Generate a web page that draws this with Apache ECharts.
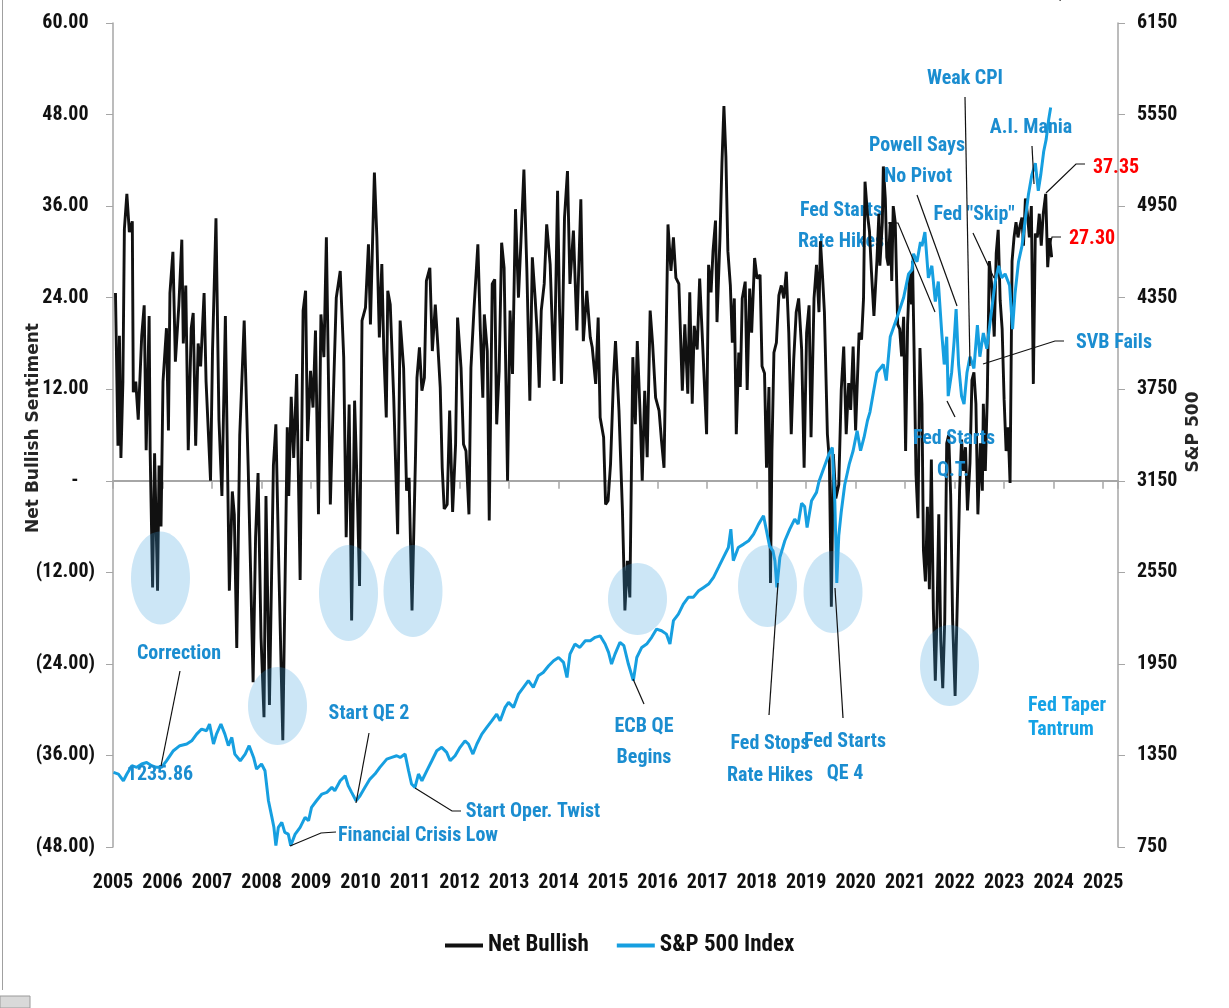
<!DOCTYPE html>
<html><head><meta charset="utf-8">
<script src="https://cdn.jsdelivr.net/npm/echarts@6/dist/echarts.min.js"></script>
<style>html,body{margin:0;padding:0;background:#fff}#c{width:1229px;height:1008px}</style>
</head><body><div id="c"></div>
<script>
// ---- Net bullish sentiment (decimal year, value) ----
const netDates = [2005.05,2005.10,2005.13,2005.16,2005.20,2005.23,2005.28,2005.33,2005.39,2005.41,2005.46,2005.51,2005.58,2005.63,2005.67,2005.73,2005.75,2005.80,2005.84,2005.90,2005.93,2005.97,2006.01,2006.08,2006.12,2006.15,2006.21,2006.26,2006.33,2006.39,2006.42,2006.47,2006.52,2006.58,2006.62,2006.67,2006.72,2006.77,2006.84,2006.88,2006.97,2007.01,2007.08,2007.14,2007.20,2007.27,2007.35,2007.41,2007.45,2007.50,2007.56,2007.65,2007.73,2007.78,2007.83,2007.88,2007.93,2007.99,2008.05,2008.09,2008.16,2008.24,2008.29,2008.35,2008.43,2008.52,2008.55,2008.60,2008.65,2008.71,2008.78,2008.84,
2008.89,2008.93,2008.99,2009.04,2009.09,2009.15,2009.20,2009.26,2009.31,2009.39,2009.46,2009.51,2009.59,2009.66,2009.71,2009.77,2009.82,2009.88,2009.93,2009.98,2010.03,2010.10,2010.16,2010.20,2010.24,2010.28,2010.33,2010.38,2010.43,2010.47,2010.52,2010.55,2010.60,2010.67,2010.75,2010.80,2010.87,2010.93,2010.98,2011.04,2011.11,2011.14,2011.19,2011.24,2011.29,2011.33,2011.40,2011.45,2011.51,2011.56,2011.61,2011.65,2011.69,2011.75,2011.80,2011.86,2011.92,2011.96,2012.03,2012.08,2012.13,2012.19,2012.23,2012.29,2012.37,2012.42,2012.47,2012.50,2012.56,2012.60,2012.66,2012.71,
2012.75,2012.80,2012.85,2012.90,2012.97,2013.02,2013.07,2013.13,2013.19,2013.24,2013.30,2013.36,2013.42,2013.47,2013.53,2013.57,2013.61,2013.65,2013.71,2013.76,2013.83,2013.91,2013.98,2014.02,2014.06,2014.12,2014.18,2014.23,2014.30,2014.37,2014.45,2014.50,2014.57,2014.64,2014.68,2014.75,2014.80,2014.84,2014.91,2014.95,2015.00,2015.05,2015.11,2015.15,2015.22,2015.29,2015.34,2015.39,2015.44,2015.50,2015.55,2015.59,2015.65,2015.69,2015.74,2015.79,2015.85,2015.90,2015.96,2016.03,2016.08,2016.13,2016.21,2016.27,2016.32,2016.37,2016.43,2016.50,2016.55,
2016.61,2016.65,2016.70,2016.74,2016.80,2016.85,2016.90,2016.99,2017.03,2017.08,2017.12,2017.17,2017.20,2017.26,2017.30,2017.34,2017.38,2017.42,2017.47,2017.51,2017.55,2017.59,2017.64,2017.67,2017.71,2017.77,2017.81,2017.86,2017.90,2017.96,2018.01,2018.07,2018.11,2018.16,2018.20,2018.25,2018.28,2018.31,2018.35,2018.40,2018.45,2018.50,2018.55,2018.60,2018.65,2018.70,2018.75,2018.80,2018.85,2018.91,2018.96,2019.01,2019.06,2019.10,2019.16,2019.21,2019.26,2019.29,2019.33,2019.37,2019.43,2019.47,2019.51,2019.55,2019.60,2019.66,2019.71,2019.76,2019.81,2019.86,2019.90,2019.95,2020.00,2020.07,2020.12,2020.16,2020.19,2020.24,2020.28,2020.32,2020.37,
2020.43,2020.47,2020.49,2020.54,2020.56,2020.60,2020.63,2020.66,2020.70,2020.73,2020.76,2020.80,2020.85,2020.89,2020.93,2020.97,2021.01,2021.05,2021.09,2021.13,2021.15,2021.18,2021.22,2021.26,2021.30,2021.34,2021.37,2021.41,2021.45,2021.49,2021.53,2021.57,2021.61,2021.64,2021.68,2021.72,2021.76,2021.80,2021.84,2021.88,2021.92,2021.96,2022.01,2022.06,2022.10,2022.14,2022.18,2022.22,2022.26,2022.31,2022.35,2022.39,2022.43,2022.47,2022.52,2022.56,2022.58,2022.62,2022.66,2022.70,2022.75,2022.80,2022.84,2022.88,2022.92,2022.96,2023.00,2023.04,2023.08,2023.12,2023.16,2023.20,2023.24,2023.28,2023.32,2023.36,2023.39,2023.43,2023.47,2023.51,2023.55,2023.59,2023.63,2023.67,2023.71,2023.75,2023.79,2023.84,2023.88,2023.92,2023.96];
const netValues = [24.6,4.6,19,3,13,33,37.6,32.6,34,11.6,13,8,19,23,4,21.6,4,-14,3.6,-14.4,2,-6,13,20,6.6,24.6,30,15.6,23,31.6,18,25.6,4,20,22,4.6,18,15,24.6,13,0,17,34.4,8,-2,21.6,-14.4,-1.4,-4.4,-21.9,6,21,2,-12,-26.4,-7.4,1,-20.5,-31,-2,-29.4,2,7.4,-11.4,-34,7,-2,11,3,14,-13,22.3,
24.9,5.2,14.4,9.6,19.7,-4.4,21.8,16.2,31.9,-3.1,13.1,24,27.5,16.2,-7.4,10,-18.3,10.5,-0.4,-13.8,21,22.7,31,20.5,30.6,40.4,31.9,18.8,28.4,17,8.3,24.9,23.1,10.9,-7,21,14.8,-1.3,0.4,-17,3.1,13.5,17.5,11.8,13.5,26.2,27.9,17,23.1,17.9,12.2,1.7,-3.7,-3.1,9.2,-4.1,4.8,21.4,14.8,4.8,3.9,-4.4,14.8,22.3,31,19.7,10.9,21.8,17,-5.2,25.8,26.4,
7.4,14.4,31.2,27.9,0,22.3,14,35.6,24,31.4,40.8,27.5,10.5,29.3,23.6,19.2,12.2,22.3,25.8,33.6,28.4,13.1,38,22.3,12.7,34.5,40.6,25.8,32.8,19.7,36.9,18.3,24.9,18.8,17.5,12.7,21.4,8.3,5.7,-3.1,-2.6,2.2,13.5,18.3,9.2,-3.9,-17,-10.5,-15.3,16.2,7.4,18.3,8.3,0,11.8,3.1,22.3,17.9,10.9,9.2,5.2,1.7,33.6,27.5,31.9,26.6,25.8,11.8,20.5,
11.4,24.7,10.1,20.3,17.2,26.5,19.4,6.1,28.3,24.7,30.1,34.1,20.8,31.8,41.6,49.1,42.5,30.1,25.6,18.1,23.9,6.1,16.8,12.3,23.9,26.1,11.9,25.2,19.4,29.2,26.5,27,15,14.1,1.7,12.3,-13.4,3.9,16.8,18.1,24.3,25.6,23.9,27.4,19.4,6.1,15.9,22.1,23.9,17.2,1.7,19.4,23,5.7,23.9,28.3,22.1,31.4,27,22.1,6.1,2.6,-16.5,3.5,-2.3,-0.5,11.9,17.6,6.1,12.8,9.3,17.6,6.6,19.4,18.5,23.9,39.2,34.9,32.7,27.4,21.6,
28.8,35,28.2,33.9,41.2,37,29.3,28.2,33.9,26.2,36,33.9,20.5,19.9,16.3,21.5,3.9,20.5,27.2,23.1,28.8,17.4,0.8,-4.9,17.4,10.1,-9.1,-13.2,-3.4,-14.2,2.8,-16.8,-26.2,-18.9,-4.4,-21,-27.2,-18.4,4.9,6,-1.8,-18.4,-28.2,-14.2,-1.3,5.4,1.3,4.4,-3.9,2.3,13.2,14.2,10.1,-4.4,4.9,-1.3,10.1,1.3,11.1,28.8,25.6,18.9,29.8,32.9,23.6,19.9,10.6,3.9,7,-0.3,28.8,31.9,33.9,31.9,33.4,34.5,30.8,37,35,31.9,36,12.7,32.4,31.9,35,30.8,35,37.6,28,31.8,29.3];

// ---- S&P 500 index (decimal year, level) ----
const spxDates = [2005.01,2005.11,2005.21,2005.28,2005.38,2005.48,2005.58,2005.68,2005.78,2005.88,2005.98,2006.08,2006.22,2006.35,2006.49,2006.59,2006.69,2006.79,2006.89,2006.95,2007.03,2007.09,2007.18,2007.26,2007.33,2007.40,2007.46,2007.57,2007.67,2007.75,2007.84,2007.90,2008.00,2008.07,2008.14,2008.21,2008.25,2008.29,2008.34,2008.41,2008.47,2008.54,2008.59,2008.68,2008.78,2008.88,2008.95,2009.01,2009.11,2009.22,2009.32,2009.42,2009.48,2009.59,2009.69,2009.75,2009.82,2009.91,2009.99,2010.09,2010.19,2010.29,2010.39,2010.53,2010.63,2010.73,
2010.80,2010.90,2010.97,2011.03,2011.10,2011.17,2011.24,2011.34,2011.44,2011.54,2011.64,2011.74,2011.81,2011.91,2012.01,2012.11,2012.18,2012.27,2012.35,2012.45,2012.55,2012.65,2012.75,2012.82,2012.92,2012.99,2013.09,2013.19,2013.29,2013.39,2013.49,2013.59,2013.69,2013.80,2013.90,2014.00,2014.10,2014.17,2014.23,2014.33,2014.43,2014.54,2014.64,2014.74,2014.84,2014.94,2015.01,2015.07,2015.14,2015.24,2015.32,2015.41,2015.51,2015.58,2015.68,2015.78,2015.88,2015.98,2016.08,2016.18,2016.25,2016.32,2016.42,2016.52,2016.62,2016.72,2016.83,2016.93,2017.03,2017.13,2017.23,2017.33,2017.43,2017.48,2017.53,2017.63,2017.74,2017.84,2017.94,2018.04,2018.14,2018.20,2018.26,2018.33,2018.37,2018.41,2018.47,2018.57,2018.67,2018.77,2018.84,2018.91,2018.97,2019.02,2019.11,2019.21,
2019.26,2019.36,2019.46,2019.53,2019.58,2019.62,2019.66,2019.71,2019.78,2019.87,2019.95,2020.03,2020.10,2020.17,2020.24,
2020.29,2020.43,2020.56,2020.62,2020.70,2020.84,2020.97,2021.07,2021.14,2021.17,2021.24,2021.31,2021.34,2021.40,2021.47,2021.54,2021.61,2021.67,2021.74,2021.79,2021.84,2021.87,2021.94,2021.99,2022.03,2022.08,2022.14,2022.19,2022.25,2022.31,2022.39,2022.46,2022.51,2022.58,2022.65,2022.73,2022.82,2022.89,2022.95,2023.02,2023.11,2023.17,2023.22,2023.29,2023.36,2023.42,2023.49,2023.56,2023.63,2023.69,2023.74,2023.80,2023.85,2023.90,2023.94];
const spxValues = [1239,1228,1184,1228,1283,1272,1294,1304,1283,1272,1272,1315,1381,1414,1425,1446,1490,1523,1512,1556,1425,1490,1556,1490,1414,1468,1359,1315,1359,1414,1337,1261,1294,1250,1053,944,879,759,879,911,846,835,759,835,879,944,922,1010,1053,1097,1108,1141,1119,1184,1217,1152,1108,1053,1086,1141,1195,1228,1272,1326,1337,1348,
1337,1359,1250,1163,1141,1228,1184,1250,1315,1381,1403,1370,1315,1348,1403,1446,1425,1359,1425,1490,1534,1577,1621,1577,1665,1698,1665,1752,1796,1840,1796,1872,1894,1938,1971,1992,1960,1861,2014,2080,2058,2102,2102,2124,2134,2080,2025,1949,2014,2091,2069,1949,1840,1992,2058,2080,2124,2178,2167,2145,2080,2233,2276,2342,2386,2386,2429,2451,2473,2517,2582,2648,2713,2833,2626,2713,2735,2757,2800,2866,2921,2822,2724,2691,2626,2451,2648,2757,2833,2899,2866,3003,2982,2844,3019,3074,
3145,3235,3323,3368,3012,2480,2791,2947,3124,3257,3347,3478,3347,3434,3545,
3600,3860,3912,3807,4094,4223,4351,4506,4533,4638,4585,4714,4688,4780,4480,4559,4325,4456,4118,3912,4094,3705,3860,4067,4275,3912,3705,3653,3860,3963,3886,4170,3963,4118,4015,4223,4456,4559,4480,4506,4430,4144,4377,4585,4688,4843,5024,5155,5232,5050,5155,5310,5389,5518,5596];

// ---- axis ticks ----
const leftTicks = [-48,-36,-24,-12,0,12,24,36,48,60];
const rightTicks = [750,1350,1950,2550,3150,3750,4350,4950,5550,6150];
const yearTicks = [2005,2006,2007,2008,2009,2010,2011,2012,2013,2014,2015,2016,2017,2018,2019,2020,2021,2022,2023,2024,2025];

const netData = netDates.map((d,i)=>[d, netValues[i]]);
const spxData = spxDates.map((d,i)=>[d, spxValues[i]]);

const NARROW = "'Liberation Sans Narrow','Arial Narrow','Roboto Condensed','Liberation Sans',sans-serif";
const BLUE_TXT = '#1b8dd0';
const axisGray = '#a6a6a6';

function txt(text, x, y, opt){
  opt = opt || {};
  return {type:'text', x:x, y:y, z: opt.z==null?100:opt.z, rotation: opt.rot||0, silent:true,
    style:{text:text, x:0, y:0, fill: opt.color||BLUE_TXT, font: (opt.font||('bold 20px '+NARROW)),
      textAlign: opt.align||'center', textVerticalAlign:'middle'}};
}
function leader(pts){
  return {type:'polyline', z:101, silent:true, shape:{points:pts}, style:{stroke:'#111', lineWidth:1.2, fill:null}};
}
function ell(cx,cy,rx,ry){
  return {type:'ellipse', z:60, silent:true, shape:{cx:cx,cy:cy,rx:rx,ry:ry}, style:{fill:'rgba(58,160,220,0.26)'}};
}

const graphics = [
  // frame artefacts
  {type:'line', z:1, silent:true, shape:{x1:2.5,y1:0,x2:2.5,y2:990}, style:{stroke:'#a0a0a0', lineWidth:1}},
  {type:'rect', z:1, silent:true, shape:{x:0,y:996,width:30,height:12}, style:{fill:'#d9d9d9', stroke:'#9a9a9a'}},
  // highlight ellipses
  ell(160.5,578,29.5,46.5), ell(277.5,706,29.5,39), ell(348.5,593,29.5,48), ell(413,591,29.5,46),
  ell(637.5,599,29.5,36), ell(767.5,586,29.5,41), ell(833,592,29.5,41), ell(949.5,665.5,29.5,40.5),
  // axis titles
  txt('Net Bullish Sentiment', 34, 428, {rot:Math.PI/2, color:'#262626', font:"bold 17px 'DejaVu Sans',sans-serif"}),
  txt('S&P 500', 1194, 432, {rot:Math.PI/2, color:'#262626', font:"bold 17px 'DejaVu Sans',sans-serif"}),
  // clipped top text
  txt('$', 1060, -6, {color:'#555', font:'bold 20px '+NARROW}),
  txt('Ratios', 1120, -6, {color:'#555', font:'bold 20px '+NARROW}),
  // annotations
  txt('Correction', 179, 654), leader([[180,671],[161,766]]),
  txt('1235.86', 160, 775),
  txt('Start QE 2', 369, 714), leader([[369,733],[356,803]]),
  txt('Financial Crisis Low', 418, 836), leader([[336,832],[321,833],[290,846]]),
  txt('Start Oper. Twist', 533, 812), leader([[461,811],[452,811],[415,788]]),
  txt('ECB QE', 644, 727), txt('Begins', 644, 758), leader([[644,704],[633,679]]),
  txt('Fed Stops', 770, 744), txt('Rate Hikes', 770, 776), leader([[769,715],[778,583]]),
  txt('Fed Starts', 845, 742), txt('QE 4', 845, 774), leader([[843,718],[835,588]]),
  txt('Fed Taper', 1028, 706, {align:'left', color:'#14a2e6'}), txt('Tantrum', 1028, 730, {align:'left', color:'#14a2e6'}),
  txt('Fed Starts', 841, 211, {z:1}), txt('Rate Hikes', 841, 242, {z:1}), leader([[888,223],[898,223],[935,312]]),
  txt('Powell Says', 917, 146), txt('No Pivot', 918, 177), leader([[917,195],[957,306]]),
  txt('Weak CPI', 965, 79), leader([[965,97],[970,366]]),
  txt('A.I. Mania', 1031, 128), leader([[1032,146],[1034,184]]),
  txt('Fed "Skip"', 974, 215), leader([[973,233],[994,278]]),
  txt('SVB Fails', 1114, 343), leader([[1064,341],[1055,341],[983,364]]),
  txt('Fed Starts', 954, 439), txt('Q.T.', 953, 471), leader([[955,417],[947,401]]),
  txt('37.35', 1116, 168, {color:'#ff0000'}), leader([[1085,164],[1076,164],[1046,193]]),
  txt('27.30', 1092, 239, {color:'#ff0000'}), leader([[1061,237],[1052,237],[1048,253]])
];

const chart = echarts.init(document.getElementById('c'), null, {renderer:'canvas'});
chart.setOption({
  animation:false,
  backgroundColor:'#fff',
  grid:{left:113, right:111, top:23, bottom:161, containLabel:false},
  legend:{
    data:['Net Bullish','S&P 500 Index'], top:929, left:440, icon:'rect',
    itemWidth:38, itemHeight:4, itemGap:28,
    textStyle:{fontFamily:NARROW, fontWeight:'bold', fontSize:23, color:'#111'}
  },
  xAxis:[
    {type:'value', min:2005, max:2025.3, interval:1, position:'bottom',
     axisLine:{show:false, onZero:false}, axisTick:{show:false}, splitLine:{show:false},
     axisLabel:{margin:26, color:'#111', fontFamily:NARROW, fontWeight:'bold', fontSize:20,
       showMaxLabel:false, formatter:v => (Number.isInteger(v) && yearTicks.indexOf(v)>=0) ? String(v) : ''}},
    {type:'value', min:2005, max:2025.3, interval:1, position:'bottom',
     axisLine:{show:true, onZero:true, onZeroAxisIndex:0, lineStyle:{color:axisGray, width:2}},
     axisTick:{show:true, length:8, lineStyle:{color:axisGray, width:1.5}},
     axisLabel:{show:false}, splitLine:{show:false}}
  ],
  yAxis:[
    {type:'value', min:-48, max:60, interval:12, position:'left',
     axisLine:{show:true, lineStyle:{color:axisGray, width:1.5}},
     axisTick:{show:true, length:7, lineStyle:{color:axisGray}},
     splitLine:{show:false},
     axisLabel:{margin:18, color:'#111', fontFamily:NARROW, fontWeight:'bold', fontSize:20,
       formatter: v => {
         if (leftTicks.indexOf(v) < 0) return '';
         if (v === 0) return '{n|-}{h|0)}';
         if (v < 0) return '{n|(' + Math.abs(v).toFixed(2) + ')}';
         return '{n|' + v.toFixed(2) + '}{h|)}';
       },
       rich:{n:{fontFamily:NARROW, fontWeight:'bold', fontSize:20, color:'#111'},
             h:{fontFamily:NARROW, fontWeight:'bold', fontSize:20, color:'rgba(0,0,0,0)'}}}},
    {type:'value', min:750, max:6150, position:'right',
     axisLine:{show:true, lineStyle:{color:axisGray, width:1.5}},
     axisTick:{show:true, length:7, lineStyle:{color:axisGray}, customValues:rightTicks},
     splitLine:{show:false},
     axisLabel:{margin:19, color:'#111', fontFamily:NARROW, fontWeight:'bold', fontSize:20, customValues:rightTicks,
       formatter: v => String(v)}}
  ],
  series:[
    {name:'Net Bullish', type:'line', xAxisIndex:0, yAxisIndex:0, data:netData, showSymbol:false,
     lineStyle:{color:'#111', width:2.9}, itemStyle:{color:'#111'}, z:3},
    {name:'S&P 500 Index', type:'line', xAxisIndex:0, yAxisIndex:1, data:spxData, showSymbol:false,
     lineStyle:{color:'#169fe0', width:3}, itemStyle:{color:'#169fe0'}, z:4}
  ],
  graphic:{elements:graphics}
});
</script>
</body></html>
